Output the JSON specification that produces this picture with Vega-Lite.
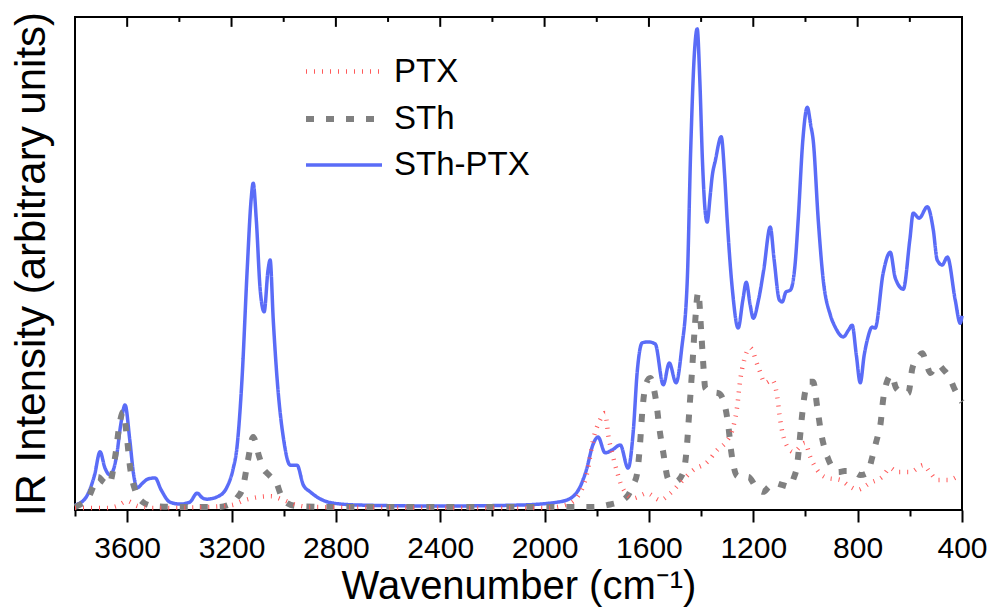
{
 "$schema": "https://vega.github.io/schema/vega-lite/v6.json",
 "width": 887, "height": 493,
 "autosize": {"type": "none"},
 "padding": {"left": 75, "top": 17, "right": 28, "bottom": 103},
 "background": "white",
 "config": {"view": {"stroke": "black", "strokeWidth": 2}, "font": "Liberation Sans"},
 "layer": [
 {
 "data": {"values": [
{"s":"STh-PTX","w":3800,"v":1.0},{"s":"STh-PTX","w":3760,"v":2.4},{"s":"STh-PTX","w":3725,"v":7.1},{"s":"STh-PTX","w":3704,"v":11.8},{"s":"STh-PTX","w":3685,"v":8.5},{"s":"STh-PTX","w":3666,"v":7.1},{"s":"STh-PTX","w":3640,"v":11.2},{"s":"STh-PTX","w":3625,"v":17.2},{"s":"STh-PTX","w":3608,"v":21.3},{"s":"STh-PTX","w":3590,"v":14.2},{"s":"STh-PTX","w":3575,"v":7.1},{"s":"STh-PTX","w":3562,"v":4.5},{"s":"STh-PTX","w":3540,"v":5.5},{"s":"STh-PTX","w":3520,"v":6.3},{"s":"STh-PTX","w":3493,"v":6.5},{"s":"STh-PTX","w":3470,"v":4.1},{"s":"STh-PTX","w":3436,"v":1.6},{"s":"STh-PTX","w":3397,"v":1.2},{"s":"STh-PTX","w":3360,"v":1.6},{"s":"STh-PTX","w":3332,"v":3.4},{"s":"STh-PTX","w":3310,"v":2.4},{"s":"STh-PTX","w":3294,"v":2.2},{"s":"STh-PTX","w":3250,"v":2.8},{"s":"STh-PTX","w":3217,"v":4.7},{"s":"STh-PTX","w":3195,"v":8.1},{"s":"STh-PTX","w":3179,"v":12.8},{"s":"STh-PTX","w":3160,"v":26.4},{"s":"STh-PTX","w":3140,"v":48.7},{"s":"STh-PTX","w":3125,"v":62.9},{"s":"STh-PTX","w":3117,"v":66.3},{"s":"STh-PTX","w":3105,"v":58.8},{"s":"STh-PTX","w":3090,"v":44.6},{"s":"STh-PTX","w":3075,"v":40.2},{"s":"STh-PTX","w":3060,"v":48.7},{"s":"STh-PTX","w":3052,"v":50.7},{"s":"STh-PTX","w":3040,"v":38.5},{"s":"STh-PTX","w":3025,"v":26.4},{"s":"STh-PTX","w":3000,"v":14.2},{"s":"STh-PTX","w":2975,"v":9.1},{"s":"STh-PTX","w":2949,"v":9.1},{"s":"STh-PTX","w":2925,"v":5.1},{"s":"STh-PTX","w":2899,"v":3.7},{"s":"STh-PTX","w":2850,"v":2.0},{"s":"STh-PTX","w":2811,"v":1.4},{"s":"STh-PTX","w":2707,"v":1.0},{"s":"STh-PTX","w":2400,"v":0.8},{"s":"STh-PTX","w":2100,"v":1.0},{"s":"STh-PTX","w":1950,"v":1.6},{"s":"STh-PTX","w":1900,"v":2.4},{"s":"STh-PTX","w":1864,"v":4.7},{"s":"STh-PTX","w":1840,"v":8.1},{"s":"STh-PTX","w":1815,"v":13.2},{"s":"STh-PTX","w":1795,"v":14.8},{"s":"STh-PTX","w":1768,"v":11.6},{"s":"STh-PTX","w":1740,"v":12.2},{"s":"STh-PTX","w":1710,"v":13.2},{"s":"STh-PTX","w":1680,"v":8.5},{"s":"STh-PTX","w":1660,"v":16.0},{"s":"STh-PTX","w":1645,"v":28.0},{"s":"STh-PTX","w":1626,"v":33.9},{"s":"STh-PTX","w":1603,"v":34.1},{"s":"STh-PTX","w":1576,"v":33.7},{"s":"STh-PTX","w":1545,"v":25.4},{"s":"STh-PTX","w":1522,"v":29.8},{"s":"STh-PTX","w":1496,"v":25.8},{"s":"STh-PTX","w":1475,"v":32.5},{"s":"STh-PTX","w":1453,"v":46.7},{"s":"STh-PTX","w":1440,"v":73.0},{"s":"STh-PTX","w":1425,"v":93.3},{"s":"STh-PTX","w":1415,"v":97.6},{"s":"STh-PTX","w":1405,"v":87.2},{"s":"STh-PTX","w":1395,"v":71.0},{"s":"STh-PTX","w":1385,"v":60.9},{"s":"STh-PTX","w":1377,"v":58.4},{"s":"STh-PTX","w":1365,"v":63.9},{"s":"STh-PTX","w":1358,"v":67.5},{"s":"STh-PTX","w":1345,"v":71.0},{"s":"STh-PTX","w":1323,"v":75.7},{"s":"STh-PTX","w":1310,"v":68.0},{"s":"STh-PTX","w":1300,"v":58.8},{"s":"STh-PTX","w":1280,"v":44.6},{"s":"STh-PTX","w":1258,"v":36.9},{"s":"STh-PTX","w":1240,"v":42.6},{"s":"STh-PTX","w":1227,"v":46.2},{"s":"STh-PTX","w":1212,"v":41.6},{"s":"STh-PTX","w":1200,"v":38.9},{"s":"STh-PTX","w":1180,"v":42.6},{"s":"STh-PTX","w":1160,"v":48.7},{"s":"STh-PTX","w":1135,"v":57.4},{"s":"STh-PTX","w":1120,"v":50.7},{"s":"STh-PTX","w":1100,"v":42.6},{"s":"STh-PTX","w":1089,"v":42.2},{"s":"STh-PTX","w":1075,"v":44.2},{"s":"STh-PTX","w":1058,"v":44.6},{"s":"STh-PTX","w":1040,"v":49.7},{"s":"STh-PTX","w":1028,"v":58.8},{"s":"STh-PTX","w":1010,"v":75.1},{"s":"STh-PTX","w":993,"v":81.7},{"s":"STh-PTX","w":980,"v":78.1},{"s":"STh-PTX","w":970,"v":74.8},{"s":"STh-PTX","w":951,"v":58.8},{"s":"STh-PTX","w":932,"v":46.7},{"s":"STh-PTX","w":905,"v":39.6},{"s":"STh-PTX","w":886,"v":37.1},{"s":"STh-PTX","w":855,"v":35.1},{"s":"STh-PTX","w":835,"v":36.5},{"s":"STh-PTX","w":821,"v":37.5},{"s":"STh-PTX","w":805,"v":31.4},{"s":"STh-PTX","w":790,"v":25.8},{"s":"STh-PTX","w":775,"v":31.4},{"s":"STh-PTX","w":763,"v":34.5},{"s":"STh-PTX","w":744,"v":37.1},{"s":"STh-PTX","w":733,"v":36.9},{"s":"STh-PTX","w":702,"v":48.1},{"s":"STh-PTX","w":675,"v":52.3},{"s":"STh-PTX","w":656,"v":47.1},{"s":"STh-PTX","w":625,"v":44.8},{"s":"STh-PTX","w":600,"v":54.8},{"s":"STh-PTX","w":587,"v":60.2},{"s":"STh-PTX","w":564,"v":59.2},{"s":"STh-PTX","w":533,"v":61.5},{"s":"STh-PTX","w":510,"v":56.8},{"s":"STh-PTX","w":495,"v":50.7},{"s":"STh-PTX","w":476,"v":49.7},{"s":"STh-PTX","w":456,"v":51.3},{"s":"STh-PTX","w":426,"v":42.6},{"s":"STh-PTX","w":407,"v":37.9},{"s":"STh-PTX","w":400,"v":39.4},
{"s":"STh","w":3800,"v":0.6},{"s":"STh","w":3770,"v":1.4},{"s":"STh","w":3754,"v":2.0},{"s":"STh","w":3730,"v":4.7},{"s":"STh","w":3712,"v":6.7},{"s":"STh","w":3690,"v":5.7},{"s":"STh","w":3670,"v":5.1},{"s":"STh","w":3645,"v":11.2},{"s":"STh","w":3630,"v":17.2},{"s":"STh","w":3616,"v":19.9},{"s":"STh","w":3600,"v":14.2},{"s":"STh","w":3590,"v":9.1},{"s":"STh","w":3570,"v":4.1},{"s":"STh","w":3540,"v":1.6},{"s":"STh","w":3500,"v":0.8},{"s":"STh","w":3400,"v":0.6},{"s":"STh","w":3250,"v":0.6},{"s":"STh","w":3213,"v":1.0},{"s":"STh","w":3180,"v":2.4},{"s":"STh","w":3156,"v":4.7},{"s":"STh","w":3137,"v":10.1},{"s":"STh","w":3117,"v":14.8},{"s":"STh","w":3094,"v":10.8},{"s":"STh","w":3075,"v":8.1},{"s":"STh","w":3064,"v":7.5},{"s":"STh","w":3045,"v":6.5},{"s":"STh","w":3033,"v":6.1},{"s":"STh","w":3010,"v":3.0},{"s":"STh","w":2987,"v":1.4},{"s":"STh","w":2950,"v":0.8},{"s":"STh","w":2800,"v":0.6},{"s":"STh","w":1900,"v":0.6},{"s":"STh","w":1814,"v":0.6},{"s":"STh","w":1760,"v":1.0},{"s":"STh","w":1700,"v":2.0},{"s":"STh","w":1680,"v":3.0},{"s":"STh","w":1660,"v":5.1},{"s":"STh","w":1645,"v":7.5},{"s":"STh","w":1635,"v":12.8},{"s":"STh","w":1625,"v":20.3},{"s":"STh","w":1612,"v":25.4},{"s":"STh","w":1595,"v":26.8},{"s":"STh","w":1580,"v":24.3},{"s":"STh","w":1572,"v":21.9},{"s":"STh","w":1560,"v":16.6},{"s":"STh","w":1545,"v":11.6},{"s":"STh","w":1526,"v":6.3},{"s":"STh","w":1500,"v":5.7},{"s":"STh","w":1469,"v":7.5},{"s":"STh","w":1455,"v":12.6},{"s":"STh","w":1445,"v":20.3},{"s":"STh","w":1435,"v":28.0},{"s":"STh","w":1425,"v":36.5},{"s":"STh","w":1411,"v":44.2},{"s":"STh","w":1400,"v":36.5},{"s":"STh","w":1392,"v":29.8},{"s":"STh","w":1384,"v":24.7},{"s":"STh","w":1360,"v":23.9},{"s":"STh","w":1334,"v":23.7},{"s":"STh","w":1315,"v":22.3},{"s":"STh","w":1296,"v":17.2},{"s":"STh","w":1285,"v":12.0},{"s":"STh","w":1262,"v":6.9},{"s":"STh","w":1240,"v":6.5},{"s":"STh","w":1219,"v":6.7},{"s":"STh","w":1190,"v":4.7},{"s":"STh","w":1162,"v":3.7},{"s":"STh","w":1140,"v":4.7},{"s":"STh","w":1120,"v":5.5},{"s":"STh","w":1090,"v":5.1},{"s":"STh","w":1062,"v":4.7},{"s":"STh","w":1045,"v":6.5},{"s":"STh","w":1032,"v":9.1},{"s":"STh","w":1022,"v":14.2},{"s":"STh","w":1012,"v":19.7},{"s":"STh","w":1000,"v":24.3},{"s":"STh","w":985,"v":26.0},{"s":"STh","w":970,"v":26.0},{"s":"STh","w":955,"v":20.9},{"s":"STh","w":940,"v":15.6},{"s":"STh","w":916,"v":10.8},{"s":"STh","w":895,"v":8.5},{"s":"STh","w":874,"v":7.7},{"s":"STh","w":850,"v":7.9},{"s":"STh","w":821,"v":7.9},{"s":"STh","w":790,"v":7.1},{"s":"STh","w":763,"v":7.5},{"s":"STh","w":745,"v":10.5},{"s":"STh","w":736,"v":12.4},{"s":"STh","w":722,"v":15.2},{"s":"STh","w":713,"v":17.2},{"s":"STh","w":702,"v":22.5},{"s":"STh","w":685,"v":26.4},{"s":"STh","w":671,"v":27.4},{"s":"STh","w":652,"v":24.7},{"s":"STh","w":630,"v":23.9},{"s":"STh","w":606,"v":23.7},{"s":"STh","w":590,"v":28.8},{"s":"STh","w":570,"v":30.8},{"s":"STh","w":552,"v":31.8},{"s":"STh","w":535,"v":29.4},{"s":"STh","w":521,"v":27.8},{"s":"STh","w":505,"v":28.8},{"s":"STh","w":490,"v":29.4},{"s":"STh","w":470,"v":28.4},{"s":"STh","w":449,"v":27.0},{"s":"STh","w":430,"v":24.7},{"s":"STh","w":410,"v":22.7},{"s":"STh","w":400,"v":21.9},
{"s":"PTX","w":3800,"v":0.4},{"s":"PTX","w":3680,"v":0.4},{"s":"PTX","w":3640,"v":0.8},{"s":"PTX","w":3600,"v":1.8},{"s":"PTX","w":3560,"v":0.8},{"s":"PTX","w":3500,"v":0.4},{"s":"PTX","w":3300,"v":0.6},{"s":"PTX","w":3200,"v":1.0},{"s":"PTX","w":3150,"v":2.0},{"s":"PTX","w":3100,"v":2.6},{"s":"PTX","w":3050,"v":2.8},{"s":"PTX","w":3000,"v":2.0},{"s":"PTX","w":2950,"v":1.0},{"s":"PTX","w":2900,"v":0.6},{"s":"PTX","w":2000,"v":0.4},{"s":"PTX","w":1920,"v":1.0},{"s":"PTX","w":1875,"v":2.6},{"s":"PTX","w":1837,"v":7.5},{"s":"PTX","w":1814,"v":14.2},{"s":"PTX","w":1787,"v":18.3},{"s":"PTX","w":1768,"v":19.7},{"s":"PTX","w":1755,"v":14.8},{"s":"PTX","w":1741,"v":11.6},{"s":"PTX","w":1722,"v":7.7},{"s":"PTX","w":1703,"v":4.7},{"s":"PTX","w":1660,"v":2.4},{"s":"PTX","w":1607,"v":3.4},{"s":"PTX","w":1557,"v":2.0},{"s":"PTX","w":1518,"v":3.4},{"s":"PTX","w":1480,"v":5.5},{"s":"PTX","w":1430,"v":8.1},{"s":"PTX","w":1377,"v":9.7},{"s":"PTX","w":1338,"v":12.2},{"s":"PTX","w":1308,"v":13.6},{"s":"PTX","w":1277,"v":16.8},{"s":"PTX","w":1262,"v":20.9},{"s":"PTX","w":1250,"v":26.4},{"s":"PTX","w":1235,"v":30.4},{"s":"PTX","w":1212,"v":32.9},{"s":"PTX","w":1181,"v":29.0},{"s":"PTX","w":1154,"v":25.8},{"s":"PTX","w":1128,"v":26.4},{"s":"PTX","w":1108,"v":22.9},{"s":"PTX","w":1097,"v":18.3},{"s":"PTX","w":1078,"v":13.8},{"s":"PTX","w":1047,"v":11.8},{"s":"PTX","w":1001,"v":13.6},{"s":"PTX","w":982,"v":10.8},{"s":"PTX","w":955,"v":8.1},{"s":"PTX","w":916,"v":6.5},{"s":"PTX","w":867,"v":6.1},{"s":"PTX","w":828,"v":4.7},{"s":"PTX","w":801,"v":4.1},{"s":"PTX","w":752,"v":5.5},{"s":"PTX","w":706,"v":6.7},{"s":"PTX","w":675,"v":8.5},{"s":"PTX","w":648,"v":7.7},{"s":"PTX","w":598,"v":7.7},{"s":"PTX","w":548,"v":9.1},{"s":"PTX","w":521,"v":7.5},{"s":"PTX","w":495,"v":6.1},{"s":"PTX","w":453,"v":6.1},{"s":"PTX","w":410,"v":7.1}
 ]},
 "mark": {"type": "line", "interpolate": "monotone"},
 "encoding": {
  "x": {"field": "w", "type": "quantitative", "scale": {"domain": [3800, 400], "nice": false, "zero": false},
   "axis": {"orient": "bottom", "zindex": 1, "values": [3800,3600,3400,3200,3000,2800,2600,2400,2200,2000,1800,1600,1400,1200,1000,800,600,400], "labelExpr": "datum.value % 400 === 0 ? datum.label : ''", "format": "d", "labelFontSize": 30, "labelColor": "black", "ticks": true, "tickColor": "black", "tickWidth": 2, "tickSize": 12, "tickDash": {"condition": {"test": "datum.value % 400 === 0", "value": [12, 100]}, "value": [6, 100]}, "labelPadding": 11, "domain": false, "grid": false, "title": "Wavenumber (cm⁻¹)", "titleFontSize": 40, "titleFontWeight": "normal", "titleColor": "black", "labelOverlap": false, "labelFlush": false, "titleBaseline": "alphabetic", "titleY": 88}},
  "y": {"field": "v", "type": "quantitative", "scale": {"domain": [0, 100], "nice": false}, "axis": {"domain": false, "ticks": false, "labels": false, "grid": false, "title": "IR Intensity (arbitrary units)", "titleFontSize": 42, "titleFontWeight": "normal", "titleColor": "black", "titlePadding": 22}},
  "color": {"field": "s", "type": "nominal", "scale": {"domain": ["PTX", "STh", "STh-PTX"], "range": ["#FF5A5A", "#808080", "#5A6CF7"]},
   "legend": {"orient": "none", "legendX": 246, "legendY": 32, "title": null, "labelFontSize": 33, "labelColor": "black", "symbolType": "M-1.9,0H1.9", "symbolSize": 1600, "labelOffset": 27, "rowPadding": 7, "padding": 0, "labelBaseline": "middle"}},
  "strokeDash": {"field": "s", "type": "nominal", "scale": {"domain": ["PTX", "STh", "STh-PTX"], "range": [[1, 7], [8, 12], [1, 0]]}},
  "strokeWidth": {"field": "s", "type": "nominal", "scale": {"type": "ordinal", "domain": ["PTX", "STh", "STh-PTX"], "range": [4.5, 6, 3.5]}}
 }
 },
 {
  "data": {"values": [{"t":3600},{"t":3200},{"t":2800},{"t":2400},{"t":2000},{"t":1600},{"t":1200},{"t":800}]},
  "mark": {"type": "rule", "color": "black", "strokeWidth": 2},
  "encoding": {
   "x": {"field": "t", "type": "quantitative"},
   "y": {"datum": 100},
   "y2": {"datum": 98}
  }
 },
 {
  "data": {"values": [{"t":3400},{"t":3000},{"t":2600},{"t":2200},{"t":1800},{"t":1400},{"t":1000},{"t":600}]},
  "mark": {"type": "rule", "color": "black", "strokeWidth": 2},
  "encoding": {
   "x": {"field": "t", "type": "quantitative"},
   "y": {"datum": 100},
   "y2": {"datum": 99}
  }
 }
 ]
}
